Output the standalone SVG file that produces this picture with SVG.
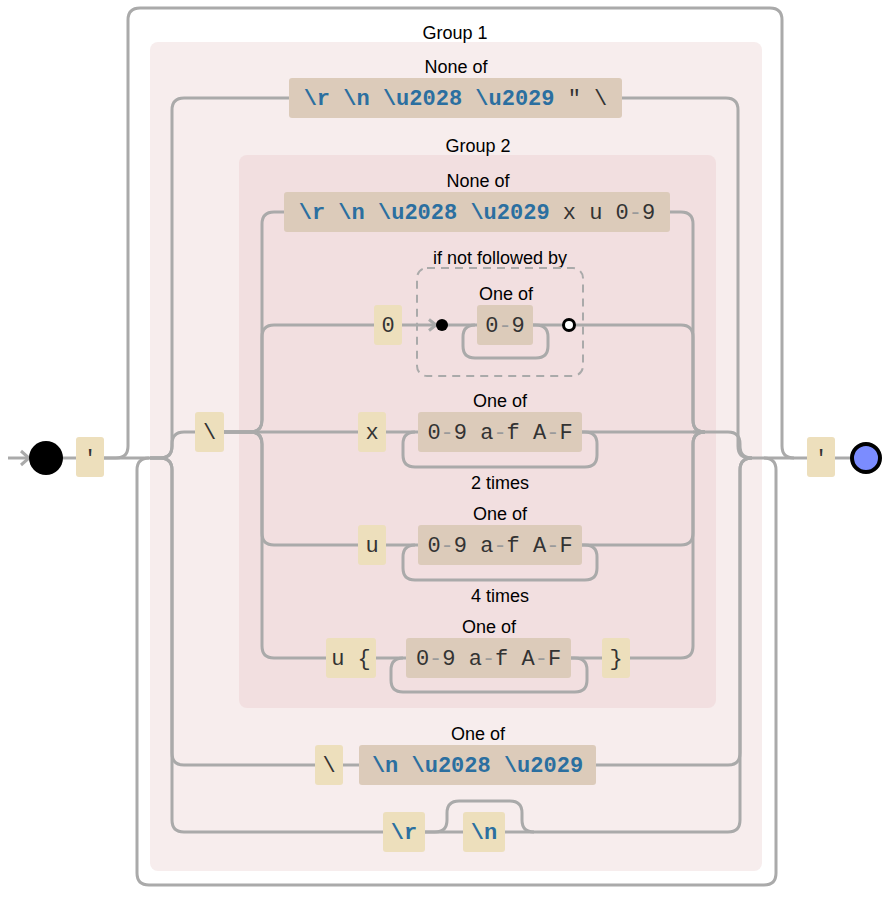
<svg xmlns="http://www.w3.org/2000/svg" width="886" height="898" viewBox="0 0 886 898">
  <style>
    .bg { fill: #ffffff; }
    .g1 { fill: #f7eded; }
    .g2 { fill: #f2dfe0; }
    .lit { fill: #eddfbc; }
    .cls { fill: #dccbba; }
    .wire { fill: none; stroke: #aaaaaa; stroke-width: 3; }
    .head { fill: none; stroke: #aaaaaa; stroke-width: 3; stroke-linejoin: miter; }
    .dash { fill: none; stroke: #aaaaaa; stroke-width: 2; stroke-dasharray: 8 6; }
    .lbl { font-family: "Liberation Sans", Arial, sans-serif; font-size: 18px; fill: #000; text-anchor: middle; }
    .mono { font-family: "Liberation Mono", "Courier New", monospace; font-size: 22px; fill: #333; text-anchor: middle; }
    .esc { font-weight: bold; fill: #2b6fa0; }
    .rng { fill: #9a9a9a; }
  </style>

  <rect class="bg" x="0" y="0" width="886" height="898"/>

  <!-- group backgrounds -->
  <g id="group1">
    <rect class="g1" x="150" y="42" width="612" height="829" rx="8"/>
    <text class="lbl" x="455" y="39">Group 1</text>
  </g>
  <g id="group2">
    <rect class="g2" x="239" y="155" width="477" height="553" rx="8"/>
    <text class="lbl" x="478" y="152">Group 2</text>
  </g>

  <!-- connectors -->
  <g id="connectors">
    <path class="wire" d="M8,458 H29"/>
    <path class="head" d="M21,451 L29,458 L21,465"/>
    <path class="wire" d="M62,458 H76"/>
    <path class="wire" d="M104,458 H150"/>
    <!-- skip path over the repeated group -->
    <path class="wire" d="M104,458 H116 Q128,458 128,446 V20 Q128,8 140,8 H770 Q782,8 782,20 V446 Q782,458 794,458"/>
    <!-- repeat loop under the group -->
    <path class="wire" d="M149,458 Q137,458 137,470 V873 Q137,885 149,885 H764 Q776,885 776,873 V470 Q776,458 764,458"/>
    <path class="wire" d="M750,458 H807"/>
    <path class="wire" d="M835,458 H852"/>

    <!-- group 1 alternation, left side -->
    <path class="wire" d="M150,458 H160 Q172,458 172,446 V110 Q172,98 184,98 H289"/>
    <path class="wire" d="M150,458 H160 Q172,458 172,446 V444 Q172,432 184,432 H195"/>
    <path class="wire" d="M150,458 H160 Q172,458 172,470 V753 Q172,765 184,765 H315"/>
    <path class="wire" d="M150,458 H160 Q172,458 172,470 V820 Q172,832 184,832 H383"/>
    <!-- group 1 alternation, right side -->
    <path class="wire" d="M622,98 H726 Q738,98 738,110 V446 Q738,458 750,458"/>
    <path class="wire" d="M693,432 H728 Q740,432 740,444 V446 Q740,458 752,458"/>
    <path class="wire" d="M596,765 H728 Q740,765 740,753 V470 Q740,458 752,458"/>
    <path class="wire" d="M537,832 H728 Q740,832 740,820 V470 Q740,458 752,458"/>
    <path class="wire" d="M343,765 H359"/>
    <path class="wire" d="M425,832 H463"/>
    <path class="wire" d="M505,832 H537"/>
    <!-- optional \n -->
    <path class="wire" d="M425,832 H435 Q447,832 447,820 V813 Q447,801 459,801 H510 Q522,801 522,813 V820 Q522,832 534,832"/>

    <!-- group 2 alternation, left side -->
    <path class="wire" d="M224,432 H358"/>
    <path class="wire" d="M224,432 H250 Q262,432 262,420 V224 Q262,212 274,212 H284"/>
    <path class="wire" d="M224,432 H250 Q262,432 262,420 V337 Q262,325 274,325 H374"/>
    <path class="wire" d="M224,432 H250 Q262,432 262,444 V533 Q262,545 274,545 H358"/>
    <path class="wire" d="M224,432 H250 Q262,432 262,444 V646 Q262,658 274,658 H326"/>
    <!-- group 2 alternation, right side -->
    <path class="wire" d="M670,212 H681 Q693,212 693,224 V420 Q693,432 705,432"/>
    <path class="wire" d="M575,325 H681 Q693,325 693,337 V420 Q693,432 705,432"/>
    <path class="wire" d="M582,432 H705"/>
    <path class="wire" d="M582,545 H681 Q693,545 693,533 V444 Q693,432 705,432"/>
    <path class="wire" d="M630,658 H681 Q693,658 693,646 V444 Q693,432 705,432"/>

    <!-- inner links -->
    <path class="wire" d="M386,432 H418"/>
    <path class="wire" d="M386,545 H418"/>
    <path class="wire" d="M376,658 H406"/>
    <path class="wire" d="M571,658 H602"/>
    <path class="wire" d="M402,325 H436"/>
    <path class="head" d="M429,319.5 L436,325 L429,330.5"/>
    <path class="wire" d="M442,325 H477"/>
    <path class="wire" d="M533,325 H563"/>

    <!-- repeat loops -->
    <path class="wire" d="M533,325 H536 Q548,325 548,337 V346 Q548,358 536,358 H475 Q463,358 463,346 V337 Q463,325 475,325"/>
    <path class="wire" d="M582,432 H585 Q597,432 597,444 V455 Q597,467 585,467 H415 Q403,467 403,455 V444 Q403,432 415,432"/>
    <path class="wire" d="M582,545 H585 Q597,545 597,557 V568 Q597,580 585,580 H415 Q403,580 403,568 V557 Q403,545 415,545"/>
    <path class="wire" d="M571,658 H575 Q587,658 587,670 V680 Q587,692 575,692 H403 Q391,692 391,680 V670 Q391,658 403,658"/>
  </g>

  <!-- start and end -->
  <g id="start"><circle cx="46" cy="458" r="17" fill="#000"/></g>
  <g id="end"><circle cx="866" cy="458" r="14" fill="#7b8cff" stroke="#000" stroke-width="4"/></g>

  <g id="quote-open">
    <rect class="lit" x="76" y="437" width="28" height="40" rx="3"/>
    <text class="mono" x="90" y="465">'</text>
  </g>
  <g id="quote-close">
    <rect class="lit" x="807" y="437" width="28" height="40" rx="3"/>
    <text class="mono" x="821" y="465">'</text>
  </g>

  <g id="none-of-1">
    <text class="lbl" x="456" y="73">None of</text>
    <rect class="cls" x="289" y="78" width="333" height="40" rx="3"/>
    <text class="mono" x="455.5" y="105"><tspan class="esc">\r \n \u2028 \u2029</tspan> " \</text>
  </g>

  <g id="backslash-1">
    <rect class="lit" x="195" y="412" width="29" height="40" rx="3"/>
    <text class="mono" x="209.5" y="439">\</text>
  </g>

  <g id="none-of-2">
    <text class="lbl" x="478" y="187">None of</text>
    <rect class="cls" x="284" y="192" width="386" height="40" rx="3"/>
    <text class="mono" x="477" y="219"><tspan class="esc">\r \n \u2028 \u2029</tspan> x u 0<tspan class="rng">-</tspan>9</text>
  </g>

  <g id="zero">
    <rect class="lit" x="374" y="305" width="28" height="40" rx="3"/>
    <text class="mono" x="388" y="332">0</text>
  </g>

  <g id="lookahead">
    <text class="lbl" x="500" y="264">if not followed by</text>
    <rect class="dash" x="417" y="268" width="166" height="108" rx="10"/>
    <circle cx="442" cy="325" r="6" fill="#000"/>
    <text class="lbl" x="506" y="300">One of</text>
    <rect class="cls" x="477" y="305" width="56" height="40" rx="3"/>
    <text class="mono" x="505" y="332">0<tspan class="rng">-</tspan>9</text>
    <circle cx="569" cy="325" r="5.5" fill="#fff" stroke="#000" stroke-width="3"/>
  </g>

  <g id="hex2">
    <rect class="lit" x="358" y="412" width="28" height="40" rx="3"/>
    <text class="mono" x="372" y="439">x</text>
    <text class="lbl" x="500" y="407">One of</text>
    <rect class="cls" x="418" y="412" width="164" height="40" rx="3"/>
    <text class="mono" x="500" y="439">0<tspan class="rng">-</tspan>9 a<tspan class="rng">-</tspan>f A<tspan class="rng">-</tspan>F</text>
    <text class="lbl" x="500" y="489">2 times</text>
  </g>

  <g id="hex4">
    <rect class="lit" x="358" y="525" width="28" height="40" rx="3"/>
    <text class="mono" x="372" y="552">u</text>
    <text class="lbl" x="500" y="520">One of</text>
    <rect class="cls" x="418" y="525" width="164" height="40" rx="3"/>
    <text class="mono" x="500" y="552">0<tspan class="rng">-</tspan>9 a<tspan class="rng">-</tspan>f A<tspan class="rng">-</tspan>F</text>
    <text class="lbl" x="500" y="602">4 times</text>
  </g>

  <g id="hex-braced">
    <rect class="lit" x="326" y="638" width="50" height="40" rx="3"/>
    <text class="mono" x="351" y="665">u {</text>
    <text class="lbl" x="489" y="633">One of</text>
    <rect class="cls" x="406" y="638" width="165" height="40" rx="3"/>
    <text class="mono" x="488.5" y="665">0<tspan class="rng">-</tspan>9 a<tspan class="rng">-</tspan>f A<tspan class="rng">-</tspan>F</text>
    <rect class="lit" x="602" y="638" width="28" height="40" rx="3"/>
    <text class="mono" x="616" y="665">}</text>
  </g>

  <g id="line-continuation">
    <rect class="lit" x="315" y="745" width="28" height="40" rx="3"/>
    <text class="mono" x="329" y="772">\</text>
    <text class="lbl" x="478" y="740">One of</text>
    <rect class="cls" x="359" y="745" width="237" height="40" rx="3"/>
    <text class="mono esc" x="477.5" y="772">\n \u2028 \u2029</text>
  </g>

  <g id="crlf">
    <rect class="lit" x="383" y="812" width="42" height="40" rx="3"/>
    <text class="mono esc" x="404" y="839">\r</text>
    <rect class="lit" x="463" y="812" width="42" height="40" rx="3"/>
    <text class="mono esc" x="484" y="839">\n</text>
  </g>
</svg>
